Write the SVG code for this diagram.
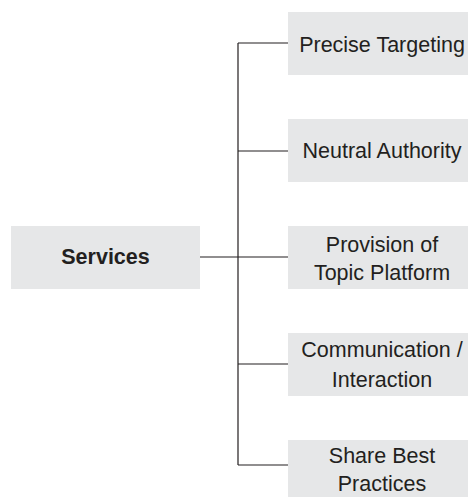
<svg xmlns="http://www.w3.org/2000/svg" width="468" height="497" viewBox="0 0 468 497">
<style>
.box{fill:#e6e7e8;}
.t{font-family:"Liberation Sans",Arial,sans-serif;font-size:21.5px;fill:#231f20;text-anchor:middle;}
.b{font-weight:bold;}
.c{stroke:#231f20;stroke-width:1.2;fill:none;}
</style>
<rect width="468" height="497" fill="#ffffff"/>
<g id="connectors">
<path class="c" d="M200,257 H238 M238,43 V465 M238,43 H288 M238,151 H288 M238,257 H288 M238,364 H288 M238,465 H288"/>
</g>
<g id="services">
<rect class="box" x="11" y="226" width="189" height="63"/>
<text class="t b" x="105.5" y="264">Services</text>
</g>
<g id="precise-targeting">
<rect class="box" x="288" y="12" width="189" height="63"/>
<text class="t" x="382" y="52">Precise Targeting</text>
</g>
<g id="neutral-authority">
<rect class="box" x="288" y="119" width="189" height="63"/>
<text class="t" x="382" y="158">Neutral Authority</text>
</g>
<g id="provision">
<rect class="box" x="288" y="226" width="189" height="63"/>
<text class="t" x="382" y="252">Provision of</text>
<text class="t" x="382" y="280">Topic Platform</text>
</g>
<g id="communication">
<rect class="box" x="288" y="333" width="189" height="63"/>
<text class="t" x="382" y="357">Communication /</text>
<text class="t" x="382" y="387">Interaction</text>
</g>
<g id="share">
<rect class="box" x="288" y="440" width="189" height="63"/>
<text class="t" x="382" y="463">Share Best</text>
<text class="t" x="382" y="491">Practices</text>
</g>
</svg>
